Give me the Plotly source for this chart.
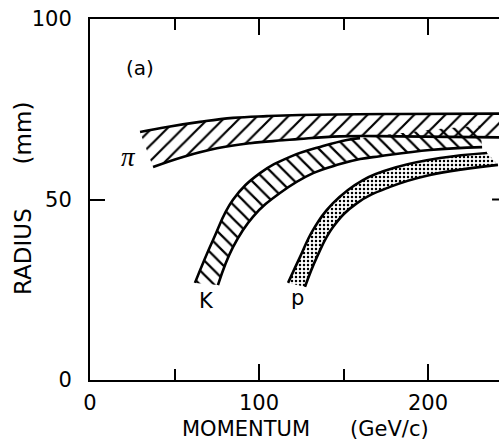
import plotly.graph_objects as go

# Ring radius (mm) bands versus momentum (GeV/c), one band per particle type
pi_upper_p = [29.6, 45.6, 65.1, 84.6, 104.7, 124.3, 183.4, 242.0]
pi_upper_r = [68.7, 70.1, 71.5, 72.6, 73.1, 73.4, 73.7, 73.8]
pi_lower_p = [37.3, 55.0, 75.1, 94.7, 114.2, 124.3, 147.9, 183.4, 242.0]
pi_lower_r = [59.0, 61.8, 64.2, 65.6, 66.4, 66.8, 67.5, 67.5, 67.2]

k_upper_p = [62.1, 72.8, 84.6, 100.6, 118.3, 137.9, 152.0, 159.8, 195.3, 230.8]
k_upper_r = [26.9, 38.8, 49.9, 57.3, 61.8, 64.8, 66.5, 67.0, 69.0, 70.4]
k_lower_p = [75.7, 84.6, 96.4, 112.4, 132.0, 147.9, 159.8, 171.6, 201.2, 232.0]
k_lower_r = [26.3, 36.8, 45.2, 51.8, 57.3, 59.8, 61.2, 62.0, 63.7, 64.5]

p_upper_p = [117.2, 124.3, 132.0, 143.8, 161.5, 181.7, 207.1, 234.9]
p_upper_r = [26.9, 34.1, 41.6, 49.0, 55.4, 59.0, 61.5, 62.9]
p_lower_p = [127.2, 134.3, 143.8, 158.0, 177.5, 201.2, 241.4]
p_lower_r = [25.8, 34.1, 42.4, 49.0, 53.5, 56.8, 59.6]

x_ticks = [0, 100, 200]
x_minor_ticks = [50, 150]
y_ticks = [0, 50, 100]

FONT = "DejaVu Sans"
INK = "black"
SMOOTH = 1.2

fig = go.Figure()


def add_band(lo_p, lo_r, hi_p, hi_r, pattern):
    # lower edge first (invisible), then the upper edge filled down to it
    fig.add_trace(go.Scatter(x=lo_p, y=lo_r, mode="lines",
                             line=dict(width=0, shape="spline", smoothing=SMOOTH),
                             hoverinfo="skip", showlegend=False))
    fig.add_trace(go.Scatter(x=hi_p, y=hi_r, mode="lines", fill="tonexty",
                             fillcolor="rgba(0,0,0,0)",
                             fillpattern=pattern,
                             line=dict(width=0, shape="spline", smoothing=SMOOTH),
                             hoverinfo="skip", showlegend=False))


def add_edge(px, pr):
    fig.add_trace(go.Scatter(x=px, y=pr, mode="lines",
                             line=dict(color=INK, width=2.6, shape="spline",
                                       smoothing=SMOOTH),
                             hoverinfo="skip", showlegend=False))


add_band(pi_lower_p, pi_lower_r, pi_upper_p, pi_upper_r,
         dict(shape="/", fgcolor=INK, bgcolor="rgba(0,0,0,0)", size=11,
              solidity=0.2, fillmode="replace"))
add_band(k_lower_p, k_lower_r, k_upper_p, k_upper_r,
         dict(shape="\\", fgcolor=INK, bgcolor="rgba(0,0,0,0)", size=10,
              solidity=0.22, fillmode="replace"))
add_band(p_lower_p, p_lower_r, p_upper_p, p_upper_r,
         dict(shape=".", fgcolor=INK, bgcolor="rgba(0,0,0,0)", size=4,
              solidity=0.3, fillmode="replace"))

add_edge(pi_upper_p, pi_upper_r)
add_edge(pi_lower_p, pi_lower_r)
add_edge(k_upper_p[:8], k_upper_r[:8])
add_edge(k_lower_p, k_lower_r)
add_edge(p_upper_p, p_upper_r)
add_edge(p_lower_p, p_lower_r)

tick_font = dict(family=FONT, size=21, color=INK)

fig.update_xaxes(
    range=[0, 242], showline=True, linecolor=INK, linewidth=2, mirror="ticks",
    ticks="inside", ticklen=16, tickwidth=2, tickcolor=INK,
    tickvals=x_ticks, ticktext=[str(v) for v in x_ticks], tickfont=tick_font,
    ticklabelstandoff=3,
    minor=dict(tickvals=x_minor_ticks, ticks="inside", ticklen=11, tickwidth=2,
               tickcolor=INK, showgrid=False),
    showgrid=False, zeroline=False,
)
fig.update_yaxes(
    range=[0, 100], showline=True, linecolor=INK, linewidth=2,
    ticks="inside", ticklen=15, tickwidth=2, tickcolor=INK,
    tickvals=y_ticks, ticktext=[str(v) for v in y_ticks], tickfont=tick_font,
    ticklabelstandoff=12,
    showgrid=False, zeroline=False,
)

label_font = dict(family=FONT, size=21, color=INK)
nb = "\u00a0"
annotations = [
    dict(x=29.6, y=86.4, xref="x", yref="y", text="(a)", showarrow=False,
         font=dict(family=FONT, size=20, color=INK)),
    dict(x=22.5, y=61.8, xref="x", yref="y", text="<i>π</i>", showarrow=False,
         font=dict(family="Liberation Serif", size=27, color=INK)),
    dict(x=69.2, y=21.9, xref="x", yref="y", text="K", showarrow=False,
         font=label_font),
    dict(x=123.0, y=22.7, xref="x", yref="y", text="p", showarrow=False,
         font=label_font),
    dict(x=0.526, y=-0.136, xref="paper", yref="paper",
         text="MOMENTUM" + nb * 6 + "(GeV/c)", showarrow=False,
         xanchor="center", yanchor="middle", font=label_font),
    dict(x=-0.164, y=0.504, xref="paper", yref="paper", textangle=-90,
         text="RADIUS" + nb * 6 + "(mm)", showarrow=False,
         xanchor="center", yanchor="middle",
         font=dict(family=FONT, size=23, color=INK)),
]

fig.update_layout(
    width=499, height=443,
    margin=dict(l=90, r=0, t=19, b=63),
    paper_bgcolor="white", plot_bgcolor="white",
    showlegend=False,
    annotations=annotations,
    shapes=[dict(type="line", xref="paper", yref="y", x0=0.983, x1=1.0,
                 y0=50, y1=50, line=dict(color=INK, width=2))],
)

fig.write_html("out.html")
